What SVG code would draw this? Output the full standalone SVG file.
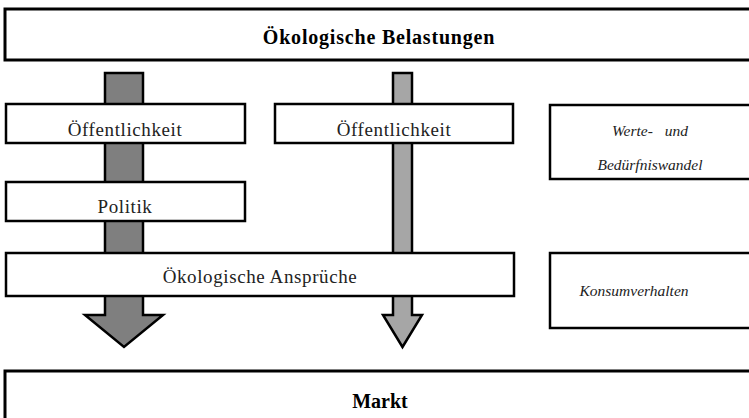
<svg xmlns="http://www.w3.org/2000/svg" width="749" height="418" viewBox="0 0 749 418">
<style>
.box{fill:#fff;stroke:#000;stroke-width:2.5}
.t{font-family:"Liberation Serif","DejaVu Serif",serif;font-size:19px;letter-spacing:0.6px;fill:#222;text-anchor:middle}
.b{font-family:"Liberation Serif","DejaVu Serif",serif;font-size:20px;font-weight:bold;fill:#000;text-anchor:middle}
.i{font-family:"Liberation Serif","DejaVu Serif",serif;font-size:15.5px;font-style:italic;fill:#222;text-anchor:middle}
.arrow{stroke:#000;stroke-width:2.5;stroke-linejoin:miter}
</style>
<g id="connectors">
<polygon class="arrow" fill="#7f7f7f" points="105,73 143,73 143,315 163,315 124,347 85,315 105,315"/>
<polygon class="arrow" fill="#a6a6a6" points="393,73 412,73 412,315 422,315 402.5,347 383,315 393,315"/>
</g>
<g id="belastungen">
<rect class="box" x="5" y="9" width="760" height="51" style="stroke-width:3"/>
<text class="b" x="379" y="44" style="letter-spacing:0.8px">Ökologische Belastungen</text>
</g>
<g id="oeffentlichkeit1">
<rect class="box" x="6" y="104" width="239" height="39"/>
<text class="t" x="125" y="136">Öffentlichkeit</text>
</g>
<g id="politik">
<rect class="box" x="6" y="182" width="239" height="39"/>
<text class="t" x="125" y="213">Politik</text>
</g>
<g id="oeffentlichkeit2">
<rect class="box" x="275" y="104" width="238" height="39"/>
<text class="t" x="394" y="136">Öffentlichkeit</text>
</g>
<g id="werte">
<rect class="box" x="550" y="105" width="220" height="74"/>
<text class="i" x="650" y="136" style="word-spacing:8px">Werte- und</text>
<text class="i" x="650" y="170">Bedürfniswandel</text>
</g>
<g id="ansprueche">
<rect class="box" x="6" y="253" width="508" height="43"/>
<text class="t" x="260" y="283">Ökologische Ansprüche</text>
</g>
<g id="konsum">
<rect class="box" x="550" y="253" width="220" height="75"/>
<text class="i" x="634" y="296">Konsumverhalten</text>
</g>
<g id="markt">
<rect class="box" x="5" y="371" width="760" height="60" style="stroke-width:3"/>
<text class="b" x="380" y="408">Markt</text>
</g>
</svg>
